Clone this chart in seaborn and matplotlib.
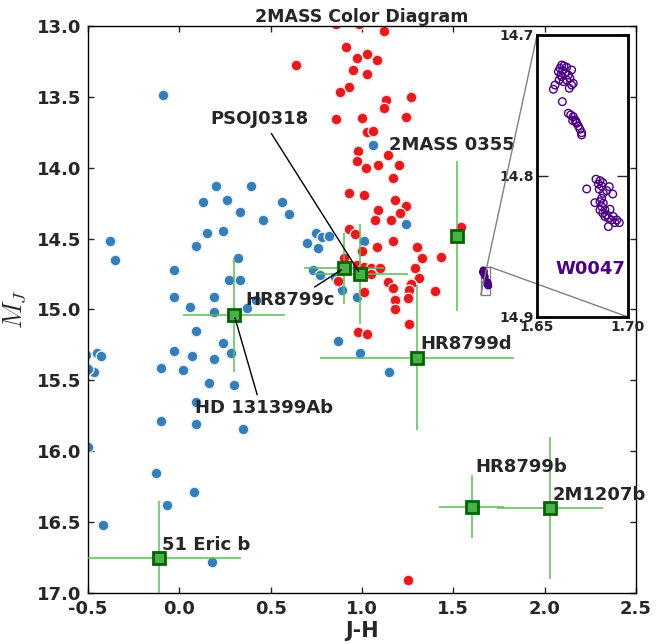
import numpy as np
import pandas as pd
import matplotlib
matplotlib.use("Agg")
import matplotlib.pyplot as plt
import seaborn as sns
from mpl_toolkits.axes_grid1.inset_locator import mark_inset

# field brown dwarfs (blue) and red field objects
blue_jh = [-0.09, 0.20, 0.39, 0.13, 0.26, 0.33, 0.56, 0.60, 0.46, 0.15, 0.24, 0.09, -0.38, -0.35,
           0.32, -0.03, 0.27, 0.33, -0.03, 0.19, 0.06, 0.19, 0.37, 0.42, 0.70, 0.75, 0.78, 0.82,
           0.76, 1.24, 1.01, 0.73, 0.77, 0.85, 0.89, 0.97, 0.87, 1.06, 0.99, 1.15, 0.09, 0.24,
           0.28, -0.03, 0.07, 0.19, -0.51, -0.45, -0.43, -0.47, -0.50, -0.50, -0.10, 0.02, 0.16,
           0.30, 0.09, -0.10, 0.09, 0.35, -0.13, 0.08, -0.07, -0.42, 0.18]
blue_mj = [13.49, 14.13, 14.13, 14.24, 14.23, 14.31, 14.24, 14.33, 14.37, 14.46, 14.45, 14.55, 14.52, 14.65,
           14.64, 14.72, 14.79, 14.79, 14.91, 14.91, 14.98, 15.02, 14.99, 14.93, 14.53, 14.46, 14.49, 14.48,
           14.57, 14.40, 14.52, 14.72, 14.76, 14.77, 14.86, 14.91, 15.22, 13.84, 15.31, 15.44, 15.15, 15.24,
           15.31, 15.29, 15.33, 15.35, 15.32, 15.31, 15.33, 15.44, 15.42, 15.97, 15.41, 15.43, 15.52,
           15.53, 15.65, 15.79, 15.81, 15.84, 16.15, 16.29, 16.38, 16.52, 16.78]

red_jh = [0.64, 1.12, 0.86, 0.985, 0.91, 0.97, 1.03, 1.08, 0.95, 1.03, 0.93, 0.88, 1.13, 1.12, 1.27,
          0.86, 1.00, 1.24, 1.03, 1.06, 0.98, 1.14, 0.97, 1.09, 1.20, 1.02, 1.17, 0.93, 1.01, 1.18,
          1.24, 1.09, 1.21, 1.07, 1.16, 0.93, 0.96, 1.54, 1.17, 1.08, 1.00, 1.30, 1.33, 1.43, 0.90,
          0.97, 1.01, 1.05, 1.10, 1.29, 1.05, 0.87, 1.31, 1.14, 1.17, 1.27, 1.26, 1.40, 1.01, 1.18,
          1.25, 1.18, 1.26, 0.98, 1.03, 1.25]
red_mj = [13.28, 13.04, 12.99, 12.99, 13.15, 13.23, 13.20, 13.24, 13.31, 13.34, 13.43, 13.47, 13.52, 13.58, 13.50,
          13.66, 13.65, 13.64, 13.75, 13.74, 13.88, 13.91, 13.95, 13.98, 13.98, 14.00, 14.07, 14.18, 14.19, 14.23,
          14.27, 14.30, 14.32, 14.37, 14.37, 14.43, 14.47, 14.42, 14.52, 14.56, 14.59, 14.56, 14.64, 14.63, 14.64,
          14.69, 14.70, 14.71, 14.71, 14.71, 14.75, 14.80, 14.78, 14.81, 14.85, 14.82, 14.86, 14.87, 14.88, 14.93,
          14.92, 15.00, 15.10, 15.16, 15.17, 16.91]

# W0047 epochs (shown in the zoomed inset)
w0047_jh = [1.6636, 1.6648, 1.6626, 1.6663, 1.6690, 1.6617, 1.6641, 1.6654, 1.6630, 1.6672, 1.6681,
            1.6699, 1.6622, 1.6644, 1.6599, 1.6590, 1.6677, 1.6690, 1.6663, 1.6636, 1.6639,
            1.6672, 1.6685, 1.6699, 1.6696, 1.6714, 1.6709, 1.6718, 1.6727, 1.6736, 1.6745, 1.6745,
            1.6824, 1.6846, 1.6861, 1.6837, 1.6855, 1.6897, 1.6773, 1.6842, 1.6883, 1.6916, 1.6864,
            1.6855, 1.6818, 1.6846, 1.6864, 1.6855, 1.6846, 1.6873, 1.6901, 1.6861, 1.6883, 1.6873,
            1.6892, 1.6919, 1.6910, 1.6938, 1.6952, 1.6928, 1.6892]
w0047_mj = [14.7213, 14.7220, 14.7236, 14.7229, 14.7248, 14.7260, 14.7253, 14.7272, 14.7284, 14.7284, 14.7307,
            14.7343, 14.7319, 14.7331, 14.7355, 14.7385, 14.7378, 14.7355, 14.7319, 14.7296, 14.7473,
            14.7555, 14.7567, 14.7579, 14.7607, 14.7615, 14.7603, 14.7626, 14.7645, 14.7669, 14.7693, 14.7709,
            14.8023, 14.8033, 14.8047, 14.8057, 14.8071, 14.8076, 14.8092, 14.8094, 14.8104, 14.8128, 14.8123,
            14.8158, 14.8189, 14.8182, 14.8193, 14.8217, 14.8241, 14.8241, 14.8236, 14.8264, 14.8276, 14.8288,
            14.8300, 14.8288, 14.8312, 14.8312, 14.8331, 14.8331, 14.8359]

# companions with error bars
comp_names = ["HR8799c", "PSOJ0318", "2MASS 0355", "HR8799d", "HD 131399Ab", "51 Eric b", "HR8799b", "2M1207b"]
comp_jh = [0.90, 0.99, 1.52, 1.30, 0.30, -0.11, 1.60, 2.03]
comp_mj = [14.71, 14.75, 14.48, 15.34, 15.04, 16.75, 16.39, 16.40]
comp_jh_err = [0.22, 0.26, 0.03, 0.53, 0.28, 0.45, 0.18, 0.29]
comp_mj_err = [0.25, 0.35, 0.53, 0.51, 0.40, 0.40, 0.22, 0.50]

sns.set_style("ticks", {"xtick.direction": "in", "ytick.direction": "in",
                        "axes.edgecolor": "black"})
plt.rcParams["font.family"] = ["DejaVu Sans"]
plt.rcParams["font.weight"] = "bold"
plt.rcParams["axes.labelweight"] = "bold"
plt.rcParams["axes.titleweight"] = "bold"
plt.rcParams["mathtext.fontset"] = "cm"

blue = pd.DataFrame({"jh": blue_jh, "mj": blue_mj})
red = pd.DataFrame({"jh": red_jh, "mj": red_mj})
w0047 = pd.DataFrame({"jh": w0047_jh, "mj": w0047_mj})

fig = plt.figure(figsize=(6.57, 6.44), dpi=100)
ax = fig.add_axes([0.134, 0.079, 0.834, 0.881])

sns.scatterplot(data=blue, x="jh", y="mj", ax=ax, color="#377eb8", s=60,
                edgecolor="#e8f2f8", linewidth=1, zorder=2)
sns.scatterplot(data=red, x="jh", y="mj", ax=ax, color="#e41a1c", s=60,
                edgecolor="#fbe3e3", linewidth=1, zorder=2)
sns.scatterplot(data=w0047, x="jh", y="mj", ax=ax, s=14, facecolor="none",
                edgecolor="indigo", linewidth=1, zorder=2)

ax.errorbar(comp_jh, comp_mj, xerr=comp_jh_err, yerr=comp_mj_err, fmt="s",
            ms=8, mfc="#4daf4a", mec="darkgreen", mew=2, ecolor="#5bbd58",
            elinewidth=1.1, capsize=0, zorder=4)

ax.set_xlim(-0.5, 2.5)
ax.set_ylim(17, 13)
ax.set_xticks([-0.5, 0.0, 0.5, 1.0, 1.5, 2.0, 2.5])
ax.set_yticks([13.0, 13.5, 14.0, 14.5, 15.0, 15.5, 16.0, 16.5, 17.0])
ax.xaxis.set_major_formatter(matplotlib.ticker.FormatStrFormatter("%.1f"))
ax.yaxis.set_major_formatter(matplotlib.ticker.FormatStrFormatter("%.1f"))
ax.tick_params(axis="both", which="major", labelsize=13, length=4, width=1,
               top=True, right=True, direction="in", pad=5)
for sp in ax.spines.values():
    sp.set_linewidth(1.0)
    sp.set_color("black")
ax.set_xlabel("J-H", fontsize=15, labelpad=2)
ax.set_ylabel("$M_J$", fontsize=19, labelpad=6)
ax.set_title("2MASS Color Diagram", fontsize=12.5, pad=3)

lbl = dict(fontsize=13, fontweight="bold", va="center", ha="left")
ax.annotate("PSOJ0318", xy=(comp_jh[1], comp_mj[1]), xytext=(0.172, 13.656),
            arrowprops=dict(arrowstyle="-", color="black", lw=1, relpos=(0.58, 0.0),
                            shrinkA=2, shrinkB=2), zorder=5, **lbl)
ax.annotate("HR8799c", xy=(comp_jh[0], comp_mj[0]), xytext=(0.363, 14.934),
            arrowprops=dict(arrowstyle="-", color="black", lw=1, relpos=(0.7, 1.0),
                            shrinkA=1, shrinkB=2), zorder=5, **lbl)
ax.annotate("HD 131399Ab", xy=(comp_jh[4], comp_mj[4]), xytext=(0.086, 15.698),
            arrowprops=dict(arrowstyle="-", color="black", lw=1, relpos=(0.46, 1.0),
                            shrinkA=1, shrinkB=2), zorder=5, **lbl)
ax.text(1.149, 13.84, "2MASS 0355", zorder=5, **lbl)
ax.text(1.317, 15.246, "HR8799d", zorder=5, **lbl)
ax.text(1.618, 16.11, "HR8799b", zorder=5, **lbl)
ax.text(2.041, 16.31, "2M1207b", zorder=5, **lbl)
ax.text(-0.093, 16.658, "51 Eric b", zorder=5, **lbl)

# zoomed inset on W0047
axins = fig.add_axes([0.8174, 0.5078, 0.1385, 0.4379])
sns.scatterplot(data=w0047, x="jh", y="mj", ax=axins, s=30, facecolor="none",
                edgecolor="indigo", linewidth=1)
axins.set_xlim(1.65, 1.70)
axins.set_ylim(14.9, 14.7)
axins.set_xticks([1.65, 1.70])
axins.set_yticks([14.7, 14.8, 14.9])
axins.xaxis.set_major_formatter(matplotlib.ticker.FormatStrFormatter("%.2f"))
axins.yaxis.set_major_formatter(matplotlib.ticker.FormatStrFormatter("%.1f"))
axins.tick_params(axis="both", labelsize=10, length=8, width=1, direction="in",
                  right=True, top=True, pad=2)
axins.set_xlabel("")
axins.set_ylabel("")
for sp in axins.spines.values():
    sp.set_linewidth(2)
    sp.set_color("black")
axins.text(1.6604, 14.866, "W0047", color="indigo", fontsize=13,
           fontweight="bold", va="center", ha="left")
mark_inset(ax, axins, loc1=2, loc2=4, fc="none", ec="0.5", lw=1)

fig.savefig("out.png", dpi=100)
